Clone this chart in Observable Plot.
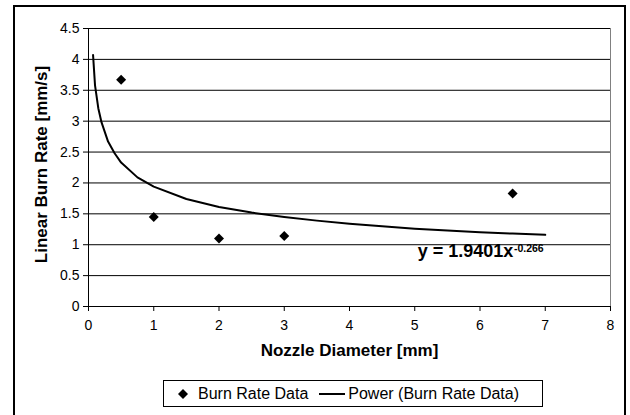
<!DOCTYPE html>
<html>
<head>
<meta charset="utf-8">
<script src="https://cdn.jsdelivr.net/npm/d3@7"></script>
<script src="https://cdn.jsdelivr.net/npm/@observablehq/plot@0.6"></script>
<style>
  html, body { margin: 0; padding: 0; background: #fff; overflow: hidden; }
  #wrap { position: relative; width: 630px; height: 415px; font-family: "Liberation Sans", Arial, sans-serif; }
  #border { position: absolute; left: 13px; top: 5px; width: 613px; height: 420px; border: 2px solid #000; box-sizing: border-box; }
  #chart { position: absolute; left: 0; top: 0; }
  #legend { position: absolute; left: 163px; top: 380px; width: 380px; height: 27px; border: 1px solid #000; box-sizing: border-box;
            display: flex; align-items: center; font-size: 16px; color: #000; background: #fff; white-space: nowrap; }
  .sw { display: inline-block; }
</style>
</head>
<body>
<div id="wrap">
  <div id="border"></div>
  <div id="chart"></div>
  <div id="legend"></div>
</div>
<script>
// Measured data points
const diameters = [0.5, 1, 2, 3, 6.5];
const burnRates = [3.67, 1.45, 1.1, 1.14, 1.83];

// Power trendline
const trendX = [0.07, 0.1, 0.15, 0.2, 0.3, 0.4, 0.5, 0.75, 1, 1.5, 2, 2.5, 3, 3.5, 4, 4.5, 5, 5.5, 6, 6.5, 7];
const trendY = [4.07, 3.58, 3.21, 2.98, 2.67, 2.48, 2.33, 2.09, 1.94, 1.74, 1.61, 1.52, 1.45, 1.39, 1.34, 1.30, 1.26, 1.23, 1.20, 1.18, 1.16];

const xTicks = [0, 1, 2, 3, 4, 5, 6, 7, 8];
const yTicks = [0, 0.5, 1, 1.5, 2, 2.5, 3, 3.5, 4, 4.5];

const xTitle = "Nozzle Diameter [mm]";
const yTitle = "Linear Burn Rate [mm/s]";
const seriesNames = ["Burn Rate Data", "Power (Burn Rate Data)"];
const eqMain = "y = 1.9401x";
const eqExp = "-0.266";

const points = diameters.map((d, i) => ({x: d, y: burnRates[i]}));
const trend = trendX.map((d, i) => ({x: d, y: trendY[i]}));

const chart = Plot.plot({
  width: 630,
  height: 415,
  marginLeft: 88,
  marginRight: 20,
  marginTop: 28,
  marginBottom: 109,
  style: {fontFamily: "'Liberation Sans', Arial, sans-serif", fontSize: "14px", background: "transparent", color: "#000"},
  x: {domain: [0, 8]},
  y: {domain: [0, 4.5]},
  marks: [
    Plot.ruleY(yTicks, {stroke: "#000", strokeWidth: 1}),
    Plot.ruleX([8], {stroke: "#808080", strokeWidth: 1}),
    Plot.ruleX([0], {stroke: "#000", strokeWidth: 1}),
    Plot.axisY({ticks: yTicks, tickSize: 5, tickPadding: 4, label: null, tickFormat: d => String(d)}),
    Plot.axisX({ticks: xTicks, tickSize: 5, tickPadding: 9, label: null}),
    Plot.line(trend, {x: "x", y: "y", stroke: "#000", strokeWidth: 2, curve: "linear"}),
    Plot.dot(points, {x: "x", y: "y", symbol: "diamond2", r: 4.5, fill: "#000", stroke: "none"}),
    Plot.text([eqMain], {x: 6.51, y: 0.892, text: d => d, textAnchor: "end", fontWeight: "bold", fontSize: 18}),
    Plot.text([eqExp], {x: 6.52, y: 0.94, text: d => d, textAnchor: "start", fontWeight: "bold", fontSize: 10.5}),
    Plot.text([xTitle], {frameAnchor: "bottom", dy: 49, text: d => d, fontWeight: "bold", fontSize: 17}),
    Plot.text([yTitle], {frameAnchor: "left", textAnchor: "middle", dx: -46.5, dy: -3, rotate: -90, text: d => d, fontWeight: "bold", fontSize: 17})
  ]
});
document.getElementById("chart").appendChild(chart);

const legend = document.getElementById("legend");
legend.innerHTML =
  `<svg class="sw" width="12" height="12" style="margin-left:13px;margin-right:9px"><path d="M6,1L11,6L6,11L1,6Z" fill="#000"/></svg>` +
  `<span>${seriesNames[0]}</span>` +
  `<svg class="sw" width="28" height="12" style="margin-left:10px;margin-right:2px"><line x1="1" y1="6" x2="27" y2="6" stroke="#000" stroke-width="2"/></svg>` +
  `<span>${seriesNames[1]}</span>`;
</script>
</body>
</html>
